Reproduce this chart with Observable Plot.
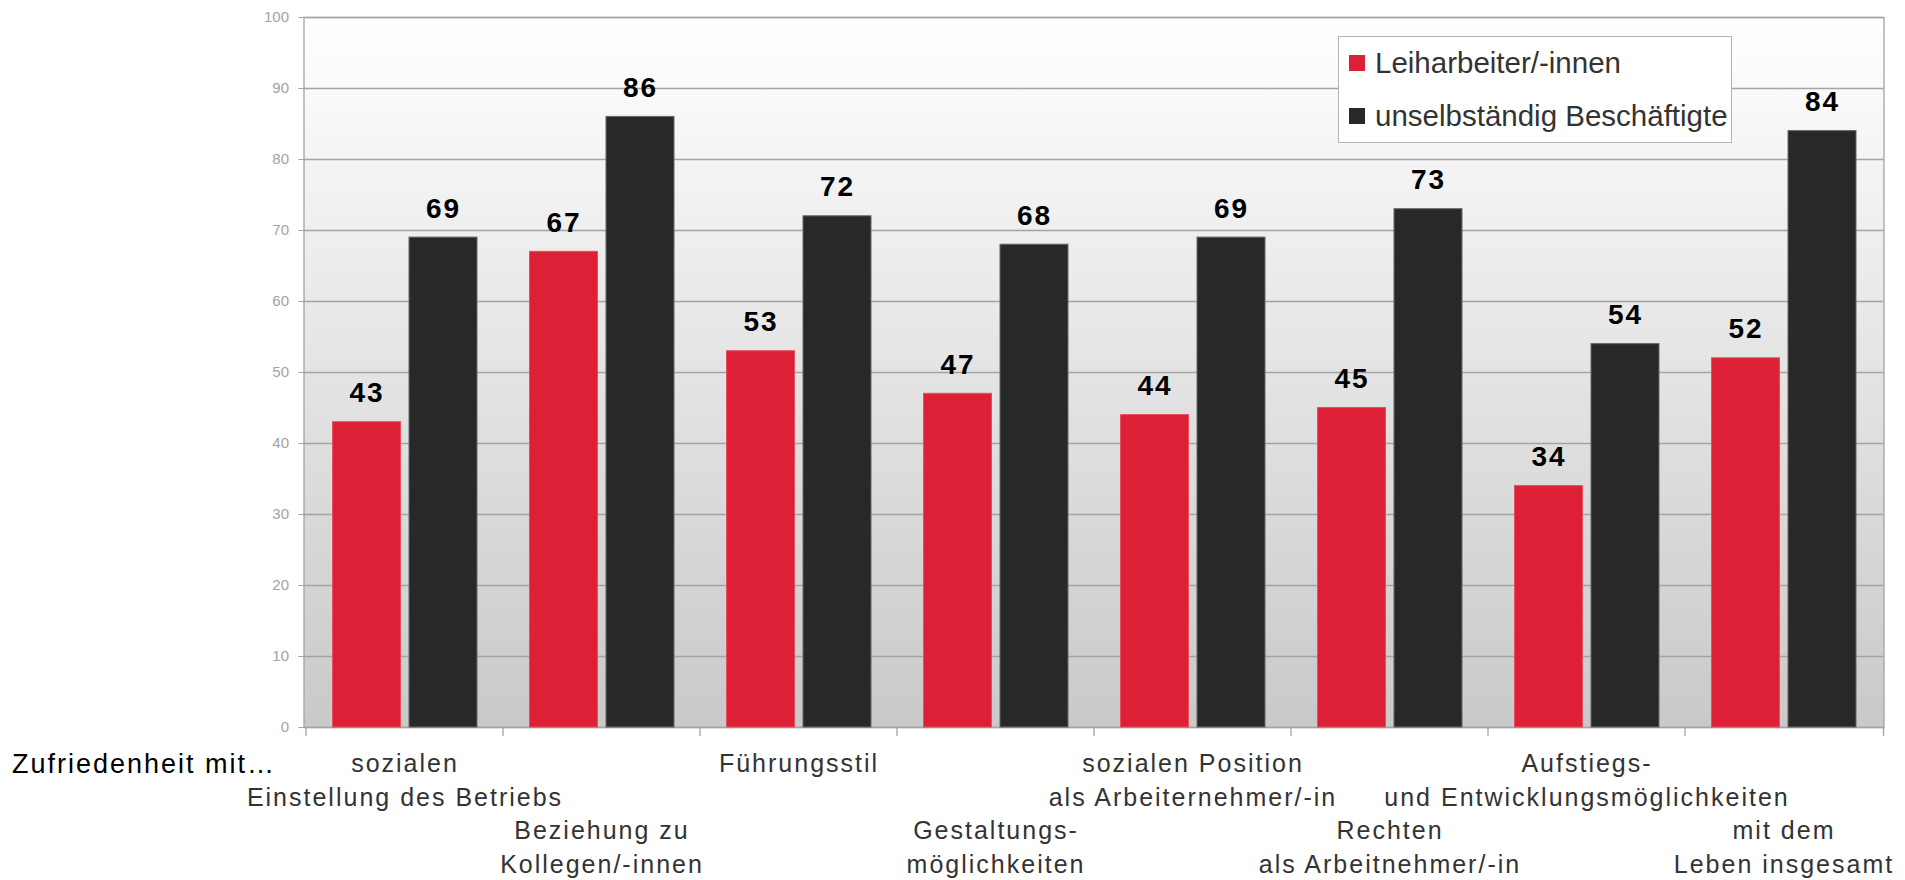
<!DOCTYPE html>
<html>
<head>
<meta charset="utf-8">
<script src="https://cdn.jsdelivr.net/npm/d3@7"></script>
<script src="https://cdn.jsdelivr.net/npm/@observablehq/plot@0.6"></script>
<style>
  html, body { margin: 0; padding: 0; background: #fff; }
  #wrap { position: relative; width: 1905px; height: 880px; font-family: "Liberation Sans", Arial, sans-serif; }
  #wrap svg text { letter-spacing: 2px; }
  #wrap svg g[aria-label="y-axis tick label"] text { letter-spacing: 0; }
  #legend { position: absolute; left: 1338px; top: 36px; width: 392px; height: 105px; border: 1px solid #b4b4b4; background: #fff; box-sizing: content-box; font-size: 29.5px; color: #333; }
  #legend .row { position: absolute; left: 10px; height: 30px; line-height: 30px; display: flex; align-items: center; white-space: nowrap; }
  #legend .sw { width: 16px; height: 16px; margin-right: 10px; display: inline-block; }
</style>
</head>
<body>
<div id="wrap"></div>
<script>
const categories = [
  "sozialen\nEinstellung des Betriebs",
  "Beziehung zu\nKollegen/-innen",
  "Führungsstil",
  "Gestaltungs-\nmöglichkeiten",
  "sozialen Position\nals Arbeiternehmer/-in",
  "Rechten\nals Arbeitnehmer/-in",
  "Aufstiegs-\nund Entwicklungsmöglichkeiten",
  "mit dem\nLeben insgesamt"
];
const leiharbeiter = [43, 67, 53, 47, 44, 45, 34, 52];
const unselbstaendig = [69, 86, 72, 68, 69, 73, 54, 84];
const seriesNames = ["Leiharbeiter/-innen", "unselbständig Beschäftigte"];
const seriesColors = ["#dd2035", "#282828"];
const yTicks = [0, 10, 20, 30, 40, 50, 60, 70, 80, 90, 100];
const axisTitle = "Zufriedenheit mit…";

const rowsA = categories.map((c, i) => ({cat: c, value: leiharbeiter[i]}));
const rowsB = categories.map((c, i) => ({cat: c, value: unselbstaendig[i]}));
const labelRows = categories.map((c, i) => ({cat: c, level: i % 2}));

function gradientDefs() {
  const defs = d3.create("svg:defs");
  const g = defs.append("linearGradient").attr("id", "bgGrad")
    .attr("x1", 0).attr("x2", 0).attr("y1", 0).attr("y2", 1);
  g.append("stop").attr("offset", "0%").attr("stop-color", "#ffffff");
  g.append("stop").attr("offset", "100%").attr("stop-color", "#c9c9c9");
  return defs.node();
}

function boundaryTicks(index, scales, values, dims) {
  const x = scales.x;
  const y0 = dims.height - dims.marginBottom;
  const xs = categories.map(c => x(c)).concat([dims.width - dims.marginRight]);
  const g = d3.create("svg:g").attr("stroke", "#a3a3a3").attr("stroke-width", 1.3);
  g.selectAll("line").data(xs).join("line")
    .attr("x1", d => d).attr("x2", d => d)
    .attr("y1", y0).attr("y2", y0 + 9);
  return g.node();
}

const mLeft = 303.5, mRight = 21.5;
const band = (1905 - mLeft - mRight) / categories.length;

const chart = Plot.plot({
  width: 1905,
  height: 880,
  marginTop: 17,
  marginBottom: 153,
  marginLeft: mLeft,
  marginRight: mRight,
  style: {fontFamily: "'Liberation Sans', Arial, sans-serif", background: "transparent"},
  x: {domain: categories, padding: 0, axis: null},
  y: {domain: [0, 100], axis: null},
  marks: [
    gradientDefs,
    Plot.frame({fill: "url(#bgGrad)", stroke: null}),
    Plot.gridY({ticks: yTicks, stroke: "#a3a3a3", strokeOpacity: 1, strokeWidth: 1.3}),
    Plot.axisY({ticks: yTicks, label: null, tickSize: 5, tickPadding: 10, fontSize: 15, color: "#a3a3a3", tickFormat: d => String(d)}),
    Plot.frame({stroke: "#a3a3a3", strokeWidth: 1.3}),
    boundaryTicks,
    Plot.barY(rowsA, {x: "cat", y: "value", fill: seriesColors[0], stroke: "#e4505e", strokeWidth: 1,
      insetLeft: 26.5, insetRight: band - 95}),
    Plot.barY(rowsB, {x: "cat", y: "value", fill: seriesColors[1], stroke: "#666", strokeWidth: 1,
      insetLeft: 103, insetRight: 26}),
    Plot.text(rowsA, {x: "cat", y: "value", text: d => String(d.value), dx: (26.5 + 95) / 2 - band / 2, dy: -20,
      lineAnchor: "bottom", fontSize: 28, fontWeight: "bold", fill: "#000"}),
    Plot.text(rowsB, {x: "cat", y: "value", text: d => String(d.value), dx: (103 + band - 26) / 2 - band / 2, dy: -20,
      lineAnchor: "bottom", fontSize: 28, fontWeight: "bold", fill: "#000"}),
    Plot.text(labelRows.filter(d => d.level === 0), {x: "cat", text: "cat", frameAnchor: "bottom", dy: 20,
      lineAnchor: "top", lineHeight: 1.36, fontSize: 25, fill: "#333"}),
    Plot.text(labelRows.filter(d => d.level === 1), {x: "cat", text: "cat", frameAnchor: "bottom", dy: 87,
      lineAnchor: "top", lineHeight: 1.36, fontSize: 25, fill: "#333"}),
    Plot.text([axisTitle], {text: d => d, frameAnchor: "bottom-left", dx: -292, dy: 26, lineAnchor: "top",
      textAnchor: "start", fontSize: 27, fill: "#000"})
  ]
});

const wrap = document.getElementById("wrap");
wrap.appendChild(chart);

const legend = document.createElement("div");
legend.id = "legend";
seriesNames.forEach((name, i) => {
  const row = document.createElement("div");
  row.className = "row";
  row.style.top = (i === 0 ? 11 : 64) + "px";
  const sw = document.createElement("span");
  sw.className = "sw";
  sw.style.background = seriesColors[i];
  const t = document.createElement("span");
  t.textContent = name;
  row.appendChild(sw);
  row.appendChild(t);
  legend.appendChild(row);
});
wrap.appendChild(legend);
</script>
</body>
</html>
